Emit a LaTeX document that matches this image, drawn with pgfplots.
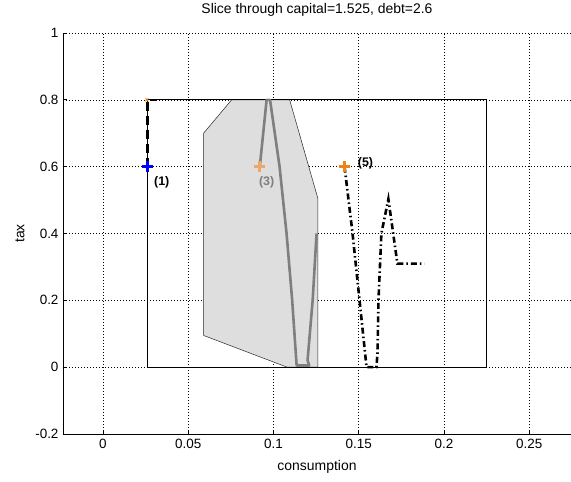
\documentclass[border=0pt]{standalone}
\usepackage{pgfplots}
\pgfplotsset{compat=1.18}
\usepackage{fontspec}
\setmainfont{Liberation Sans}
\definecolor{polyfill}{HTML}{DEDEDE}
\definecolor{lgray}{HTML}{7F7F7F}
\definecolor{tan3}{HTML}{EBA866}
\definecolor{org5}{HTML}{E8861A}
\begin{document}
\begin{tikzpicture}
\useasboundingbox (-63bp,-48bp) rectangle (508bp,434bp);
\begin{axis}[
  at={(0,0)}, anchor=south west,
  scale only axis, width=508bp, height=401bp,
  xmin=-0.0234, xmax=0.2745, ymin=-0.2, ymax=1,
  axis x line=bottom, axis y line=left,
  axis line style={-, black, line width=0.7bp},
  xtick={0,0.05,0.1,0.15,0.2,0.25},
  xticklabels={0,0.05,0.1,0.15,0.2,0.25},
  ytick={-0.2,0,0.2,0.4,0.6,0.8,1},
  yticklabels={-0.2,0,0.2,0.4,0.6,0.8,1},
  tick align=inside, major tick length=4bp,
  tick style={black, line width=0.7bp},
  grid=major,
  major grid style={black, line width=0.5bp, dash pattern=on 0.9bp off 2.1bp},
  tick label style={font=\fontsize{13.5}{14}\selectfont},
  xticklabel style={yshift=-2bp},
  yticklabel style={xshift=-1bp},
  xlabel={consumption},
  xlabel style={at={(axis description cs:0.5,-0.0823)}, anchor=center, font=\fontsize{14}{15}\selectfont},
  ylabel={tax},
  ylabel style={at={(axis description cs:-0.0846,0.5)}, anchor=center, font=\fontsize{14}{15}\selectfont},
  clip=false,
]
% shaded feasible polygon
\addplot[fill=polyfill, draw=black!85, line width=0.5bp] coordinates {
  (0.0755,0.8) (0.059,0.70) (0.059,0.095) (0.108,0) (0.126,0)
  (0.126,0.506) (0.1095,0.8) (0.0755,0.8)};
% bounding rectangle
\addplot[black, line width=0.7bp] coordinates {
  (0.0263,0) (0.2248,0) (0.2248,0.8) (0.0263,0.8) (0.0263,0)};
% path (3)
\addplot[lgray, line width=2.6bp, line join=round] coordinates {
  (0.092,0.6) (0.096,0.8) (0.098,0.8) (0.1036,0.6) (0.1077,0.4)
  (0.111,0.2) (0.1136,0.005) (0.121,0.005) (0.120,0.02) (0.123,0.2) (0.1253,0.40)};
% path (1)
\addplot[black, line width=2.6bp, dash pattern=on 9bp off 5bp] coordinates {
  (0.0263,0.6) (0.0263,0.8) (0.031,0.8)};
% path (5)
\addplot[black, line width=2.6bp, dash pattern=on 6bp off 3bp on 1.5bp off 3bp] coordinates {
  (0.1417,0.6) (0.1464,0.4) (0.1505,0.2) (0.1546,0) (0.1604,0) (0.161,0.04)
  (0.1616,0.2) (0.1633,0.4) (0.1674,0.503) (0.1727,0.31) (0.1885,0.31)};
% markers
\addplot[only marks, mark=x, mark size=2bp, org5, line width=1bp] coordinates {(0.0258,0.8)};
\addplot[only marks, mark=+, mark size=5.5bp, blue, line width=2.6bp] coordinates {(0.0263,0.6)};
\addplot[only marks, mark=+, mark size=5.5bp, tan3, line width=2.6bp] coordinates {(0.092,0.6)};
\addplot[only marks, mark=+, mark size=5.5bp, org5, line width=2.6bp] coordinates {(0.1417,0.6)};
% labels
\node[font=\fontsize{12.5}{13}\selectfont\bfseries, black] at (axis cs:0.0345,0.554) {(1)};
\node[font=\fontsize{12.5}{13}\selectfont\bfseries, lgray] at (axis cs:0.096,0.554) {(3)};
\node[font=\fontsize{12.5}{13}\selectfont\bfseries, black] at (axis cs:0.154,0.611) {(5)};
\node[font=\fontsize{14}{15}\selectfont, anchor=center] at (rel axis cs:0.5,1.057) {Slice through capital=1.525, debt=2.6};
\end{axis}
\end{tikzpicture}
\end{document}
